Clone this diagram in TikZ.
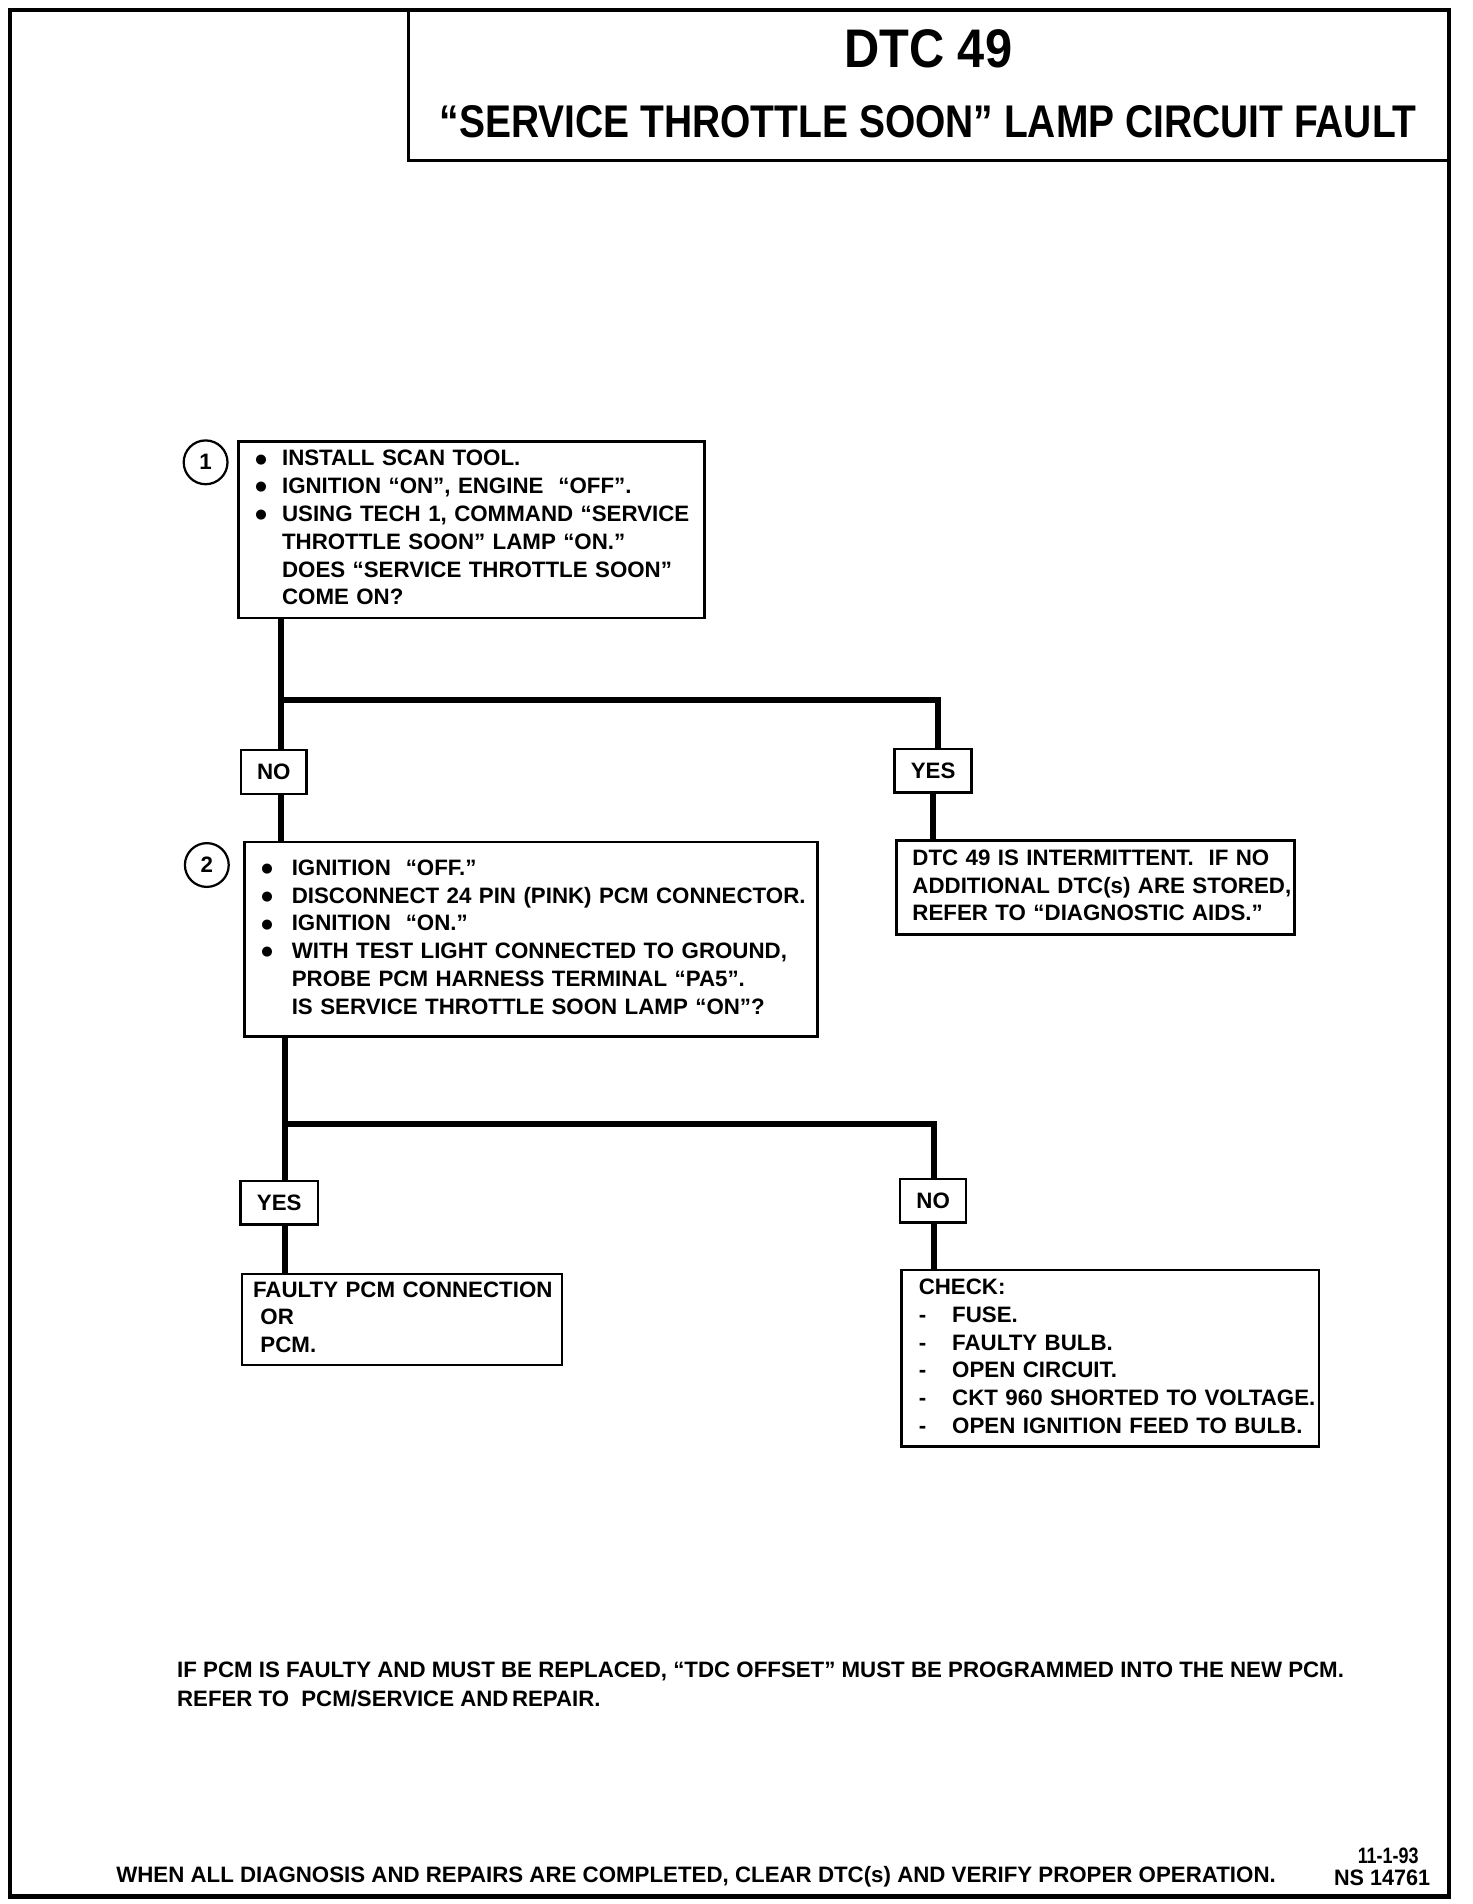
\documentclass[tikz,border=0pt]{standalone}
\usepackage{fontspec}
\setmainfont{Liberation Sans}
\newfontfamily\dotfont{DejaVu Sans}
\usepackage{graphicx}
\usepackage{array}

\newcommand{\boxfont}{\bfseries\fontsize{11}{13.7}\selectfont}
\newcommand{\notefont}{\bfseries\fontsize{11}{13.7}\selectfont}
\newcommand{\fitline}[2]{\resizebox{#1}{\height}{#2}}
\newcommand{\bigdot}{\raisebox{1.4pt}{\dotfont\fontsize{6.5}{7}\selectfont ●}}

\tikzset{every picture/.style={line width=0.75pt}}
\tikzset{
  stepbox/.style={draw, line width=1.2pt, anchor=north west, align=left, inner ysep=0pt, font=\boxfont},
  answer/.style={draw, line width=1.2pt, inner xsep=8pt, inner ysep=0pt, minimum height=21.6pt, font=\boxfont},
  stepnum/.style={draw, circle, line width=1.1pt, minimum size=21.6pt, inner sep=0pt, font=\boxfont},
  flow/.style={line width=3pt}
}

\begin{document}
\begin{tikzpicture}[x=0.6pt,y=0.6pt,yscale=-1,xscale=1]
\useasboundingbox (0,0) rectangle (1210,1565);

%Shape: Frame
\draw[line width=2.2pt] (8,8) rectangle (1191,1559);
\draw[line width=1.4pt] (336,8) -- (336,132) -- (1191,132);

% Title
\node[font=\bfseries\fontsize{26.8}{30}\selectfont, inner sep=0pt] (dtc) at (763,40) {\fitline{82.8pt}{DTC 49}};
\node[font=\bfseries\fontsize{22.6}{26}\selectfont, inner sep=0pt] (title) at (763,100) {\fitline{481.8pt}{“SERVICE THROTTLE SOON” LAMP CIRCUIT FAULT}};

% Step 1
\node[stepnum] (n1) at (169,380) {1};
\node[stepbox, inner xsep=8.3pt, text width=213.2pt, minimum height=87pt] (box1) at (195,362) {%
\begin{tabular}{@{}p{13.2pt}@{}l@{}}
\bigdot & INSTALL SCAN TOOL.\\
\bigdot & IGNITION “ON”, ENGINE\ \ “OFF”.\\
\bigdot & USING TECH 1, COMMAND “SERVICE\\
 & THROTTLE SOON” LAMP “ON.”\\
 & DOES “SERVICE THROTTLE SOON”\\
 & COME ON?
\end{tabular}};

% Answers 1
\node[answer] (no1) at (225,634.5) {NO};
\node[answer] (yes1) at (767,633.5) {YES};

% Step 2
\node[stepnum] (n2) at (170,711) {2};
\node[stepbox, inner xsep=8.3pt, text width=266pt, minimum height=96pt] (box2) at (200,691) {%
\begin{tabular}{@{}p{15pt}@{}l@{}}
\bigdot & IGNITION\ \ “OFF.”\\
\bigdot & DISCONNECT 24 PIN (PINK) PCM CONNECTOR.\\
\bigdot & IGNITION\ \ “ON.”\\
\bigdot & WITH TEST LIGHT CONNECTED TO GROUND,\\
 & PROBE PCM HARNESS TERMINAL “PA5”.\\
 & IS SERVICE THROTTLE SOON LAMP “ON”?
\end{tabular}};

% Intermittent
\node[stepbox, inner xsep=7.8pt, text width=180.6pt, minimum height=46.2pt] (intermit) at (736,690) {%
\begin{tabular}{@{}l@{}}
DTC 49 IS INTERMITTENT.\ \ IF NO\\
ADDITIONAL DTC(s) ARE STORED,\\
REFER TO “DIAGNOSTIC AIDS.”
\end{tabular}};

% Answers 2
\node[answer] (yes2) at (229.5,988.5) {YES};
\node[answer] (no2) at (767,987) {NO};

% Results
\node[stepbox, inner xsep=5.4pt, text width=147pt, minimum height=45pt] (faulty) at (198,1046) {%
\begin{tabular}{@{}l@{}}
FAULTY PCM CONNECTION\\
\ OR\\
\ PCM.
\end{tabular}};
\node[stepbox, inner xsep=8.5pt, text width=188.8pt, minimum height=87pt] (check) at (740,1043) {%
\begin{tabular}{@{}p{16.5pt}@{}l@{}}
\multicolumn{2}{@{}l@{}}{CHECK:}\\
-  & FUSE.\\
-  & FAULTY BULB.\\
-  & OPEN CIRCUIT.\\
-  & CKT 960 SHORTED TO VOLTAGE.\\
-  & OPEN IGNITION FEED TO BULB.
\end{tabular}};

% Connectors
\coordinate (j1) at (231,575);
\coordinate (j1r) at (771,575);
\draw[flow] (box1.south -| j1) -- (j1) -- (j1r) -- (j1r |- yes1.north);
\draw[flow] (j1) -- (j1 |- no1.north);
\draw[flow] (no1.south -| j1) -- (box2.north -| j1);
\draw[flow] (yes1.south) -- (yes1.south |- intermit.north);

\coordinate (j2) at (234,924);
\coordinate (j2r) at (768,924);
\draw[flow] (box2.south -| j2) -- (j2) -- (j2r) -- (j2r |- no2.north);
\draw[flow] (j2) -- (j2 |- yes2.north);
\draw[flow] (yes2.south -| j2) -- (faulty.north -| j2);
\draw[flow] (no2.south -| j2r) -- (check.north -| j2r);

% Notes
\node[anchor=base west, inner sep=0pt, font=\notefont] (note1) at (145,1379) {\fitline{575.4pt}{IF PCM IS FAULTY AND MUST BE REPLACED, “TDC OFFSET” MUST BE PROGRAMMED INTO THE NEW PCM.}};
\node[anchor=base west, inner sep=0pt, font=\notefont] (note2) at (145,1403) {\fitline{208.8pt}{REFER TO\ \ PCM/SERVICE AND\,REPAIR.}};

% Footer
\node[anchor=base west, inner sep=0pt, font=\notefont] (footer) at (95,1547) {\fitline{571.8pt}{WHEN ALL DIAGNOSIS AND REPAIRS ARE COMPLETED, CLEAR DTC(s) AND VERIFY PROPER OPERATION.}};
\node[anchor=base, inner sep=0pt, font=\notefont] (date) at (1141,1532) {\fitline{30pt}{11-1-93}};
\node[anchor=base, inner sep=0pt, font=\notefont] (code) at (1136,1550) {\fitline{47.4pt}{NS 14761}};
\end{tikzpicture}
\end{document}
